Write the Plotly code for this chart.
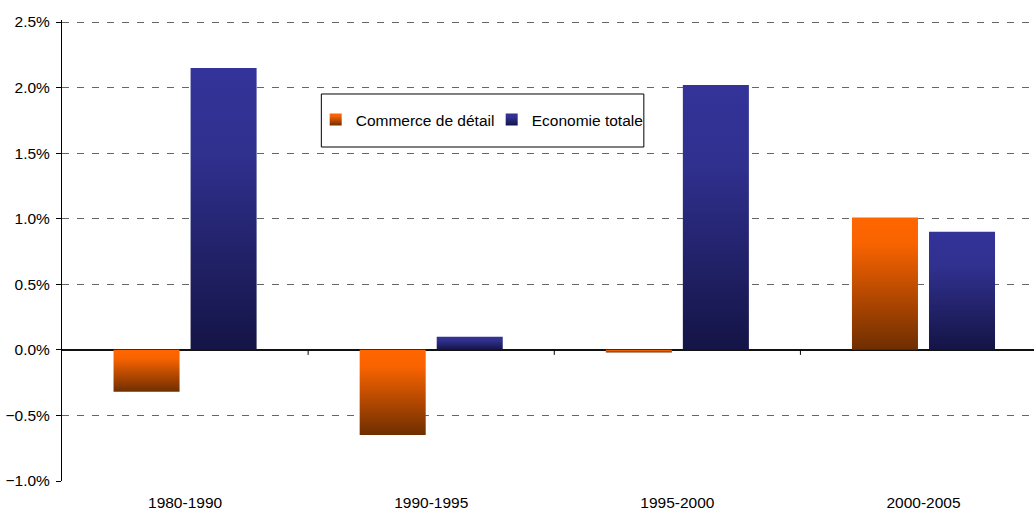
import plotly.graph_objects as go

periods = ['1980-1990', '1990-1995', '1995-2000', '2000-2005']
commerce = [-0.0032, -0.0065, -0.0002, 0.0101]
economie = [0.0215, 0.0010, 0.0202, 0.0090]

FONT = 'Liberation Sans, Arial, sans-serif'

fig = go.Figure()
fig.add_trace(go.Bar(x=periods, y=commerce, name='Commerce de détail',
                     marker=dict(color='#b54a05', line=dict(width=0))))
fig.add_trace(go.Bar(x=periods, y=economie, name='Economie totale',
                     marker=dict(color='#24246e', line=dict(width=0))))

# small tick marks on the zero line between categories
for b in [0.5, 1.5, 2.5]:
    fig.add_shape(type='line', xref='x', yref='y', x0=b, x1=b,
                  ysizemode='pixel', yanchor=0, y0=0, y1=-5,
                  line=dict(color='black', width=1))

# legend frame
fig.add_shape(type='rect', xref='paper', yref='paper',
              x0=0.2668, x1=0.5986, y0=0.7245, y1=0.8395,
              fillcolor='white', line=dict(color='black', width=1),
              layer='above')

fig.update_layout(
    width=1034, height=512,
    margin=dict(l=62, r=0, t=20, b=31),
    paper_bgcolor='white', plot_bgcolor='white',
    font=dict(family=FONT, size=15.5, color='black'),
    barmode='group', bargap=0.374, bargroupgap=0.143,
    showlegend=True,
    legend=dict(orientation='h', x=0.261, xanchor='left',
                y=0.7831, yanchor='middle',
                bgcolor='rgba(0,0,0,0)', borderwidth=0,
                entrywidth=131, entrywidthmode='pixels',
                font=dict(family=FONT, size=15.5, color='black')),
)
fig.update_xaxes(type='category', range=[-0.5, 3.449], showline=False,
                 showgrid=False, ticks='', ticklabelstandoff=10,
                 fixedrange=True)
fig.update_yaxes(range=[-0.01, 0.025153], dtick=0.005, tickformat='.1%',
                 showgrid=True, gridcolor='#666666', gridwidth=1,
                 griddash='7px,8px',
                 zeroline=True, zerolinecolor='#111111', zerolinewidth=1.5,
                 showline=True, linecolor='black', linewidth=1,
                 ticks='outside', ticklen=5, tickcolor='black',
                 ticklabelstandoff=3,
                 fixedrange=True)

post = """
document.body.style.margin = '0';
document.body.style.overflow = 'hidden';
var gd = document.getElementById('{plot_id}');
function paint() {
  var ns = 'http://www.w3.org/2000/svg';
  var svg = gd.querySelector('svg.main-svg');
  var defs = svg.querySelector('defs');
  function grad(id, stops) {
    if (document.getElementById(id)) return;
    var g = document.createElementNS(ns, 'linearGradient');
    g.setAttribute('id', id);
    g.setAttribute('x1', '0'); g.setAttribute('y1', '0');
    g.setAttribute('x2', '0'); g.setAttribute('y2', '1');
    stops.forEach(function (s) {
      var st = document.createElementNS(ns, 'stop');
      st.setAttribute('offset', s[0]);
      st.setAttribute('stop-color', s[1]);
      g.appendChild(st);
    });
    defs.appendChild(g);
  }
  grad('grad0', [[0, '#ff6600'], [0.2, '#f86300'], [1, '#6e2e00']]);
  grad('grad1', [[0, '#333399'], [0.3, '#30308f'], [1, '#141446']]);
  gd.querySelectorAll('.barlayer .trace').forEach(function (tr, i) {
    tr.querySelectorAll('path').forEach(function (p) {
      p.style.fill = 'url(#grad' + i + ')';
    });
  });
  gd.querySelectorAll('.legend .traces').forEach(function (tr, i) {
    tr.querySelectorAll('.legendpoints path').forEach(function (p) {
      p.style.fill = 'url(#grad' + i + ')';
    });
  });
}
paint();
gd.on('plotly_afterplot', paint);
"""

fig.write_html('out.html', post_script=post,
               config={'displayModeBar': False})
